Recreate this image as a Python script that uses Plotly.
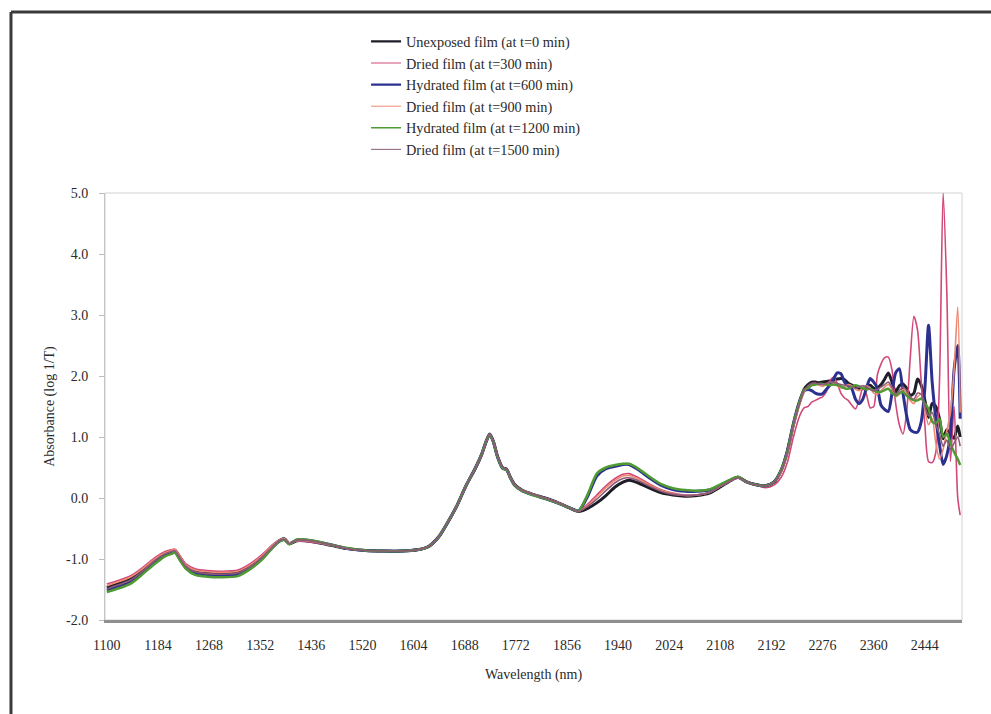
import plotly.graph_objects as go

# Wavelength grid (nm): smooth part of the spectrum, then the noisier end of the range
wl_smooth = [
    1100, 1120, 1140, 1160, 1180, 1195, 1205, 1212, 1220, 1230,
    1245, 1265, 1290, 1315, 1335, 1355, 1372, 1385, 1392, 1400,
    1412, 1425, 1445, 1470, 1495, 1525, 1555, 1585, 1610, 1628,
    1645, 1660, 1675, 1690, 1705, 1716, 1723, 1729, 1735, 1742,
    1750, 1757, 1763, 1770, 1782, 1800, 1820, 1840, 1860, 1875,
    1890, 1905, 1920, 1935, 1948, 1958, 1972, 1990, 2010, 2030,
    2050, 2070, 2090, 2108, 2124, 2137, 2150, 2165, 2182, 2196,
    2208, 2218, 2228, 2238, 2246,
]
wl_noisy = [
    2252, 2258, 2264, 2270, 2276, 2282, 2288, 2294, 2300, 2306,
    2312, 2318, 2324, 2330, 2336, 2342, 2348, 2354, 2360, 2366,
    2372, 2378, 2384, 2390, 2396, 2402, 2408, 2414, 2420, 2426,
    2432, 2438, 2444, 2450, 2456, 2462, 2468, 2474, 2480, 2486,
    2492, 2498, 2502,
]
wavelength = wl_smooth + wl_noisy

# Absorbance (log 1/T) for each film state
unexposed_t0 = [
    -1.47, -1.40, -1.32, -1.18, -1.01, -0.91, -0.87, -0.86, -0.97, -1.11,
    -1.19, -1.22, -1.23, -1.21, -1.11, -0.96, -0.79, -0.69, -0.67, -0.75,
    -0.70, -0.70, -0.73, -0.78, -0.83, -0.86, -0.87, -0.87, -0.85, -0.80,
    -0.64, -0.40, -0.13, 0.20, 0.48, 0.72, 0.92, 1.05, 0.93, 0.68,
    0.50, 0.47, 0.34, 0.22, 0.13, 0.06, 0.00, -0.07, -0.16, -0.22,
    -0.17, -0.08, 0.04, 0.18, 0.26, 0.29, 0.25, 0.17, 0.09, 0.05,
    0.03, 0.04, 0.08, 0.18, 0.28, 0.34, 0.27, 0.22, 0.20, 0.26,
    0.45, 0.76, 1.20, 1.57, 1.79,
    1.86, 1.90, 1.90, 1.89, 1.90, 1.91, 1.92, 1.93, 1.95, 1.96,
    1.94, 1.88, 1.85, 1.82, 1.80, 1.79, 1.83, 1.85, 1.80, 1.80,
    1.86, 1.95, 2.05, 1.90, 1.74, 1.84, 1.87, 1.80, 1.68, 1.72,
    1.95, 1.85, 1.60, 1.32, 1.55, 1.50, 1.30, 0.97, 1.12, 1.05,
    0.98, 1.18, 1.00,
]
dried_t300 = [
    -1.41, -1.35, -1.27, -1.13, -0.97, -0.88, -0.85, -0.84, -0.95, -1.08,
    -1.16, -1.19, -1.20, -1.18, -1.08, -0.93, -0.77, -0.68, -0.67, -0.74,
    -0.71, -0.71, -0.74, -0.78, -0.83, -0.86, -0.87, -0.87, -0.85, -0.80,
    -0.64, -0.40, -0.13, 0.20, 0.48, 0.72, 0.92, 1.05, 0.93, 0.68,
    0.50, 0.47, 0.34, 0.22, 0.13, 0.06, 0.00, -0.07, -0.16, -0.22,
    -0.10, 0.05, 0.20, 0.32, 0.39, 0.40, 0.34, 0.24, 0.14, 0.08,
    0.05, 0.05, 0.09, 0.19, 0.28, 0.33, 0.27, 0.22, 0.17, 0.21,
    0.34, 0.58, 1.00, 1.34, 1.48,
    1.50, 1.57, 1.60, 1.63, 1.66, 1.74, 1.92, 1.98, 1.88, 1.72,
    1.64, 1.60, 1.52, 1.46, 1.60, 1.80, 1.70, 1.48, 1.50, 2.02,
    2.20, 2.30, 2.31, 2.10, 1.55, 1.20, 1.05, 1.40, 2.30, 2.98,
    2.75, 1.90, 1.20, 0.60, 0.58, 0.75, 1.90, 5.00, 3.40, 0.60,
    1.50, 0.00, -0.28,
]
hydrated_t600 = [
    -1.51, -1.45, -1.37, -1.21, -1.04, -0.94, -0.90, -0.88, -1.00, -1.14,
    -1.23, -1.26, -1.27, -1.25, -1.15, -0.99, -0.81, -0.70, -0.68, -0.75,
    -0.69, -0.69, -0.72, -0.77, -0.83, -0.86, -0.87, -0.87, -0.85, -0.80,
    -0.64, -0.40, -0.13, 0.20, 0.48, 0.72, 0.92, 1.04, 0.92, 0.67,
    0.49, 0.46, 0.33, 0.21, 0.12, 0.05, -0.01, -0.08, -0.16, -0.21,
    0.03, 0.36, 0.48, 0.52, 0.55, 0.55, 0.47, 0.34, 0.21, 0.14,
    0.11, 0.11, 0.13, 0.21, 0.29, 0.34, 0.27, 0.22, 0.20, 0.26,
    0.46, 0.77, 1.22, 1.58, 1.76,
    1.78, 1.76, 1.72, 1.70, 1.71, 1.78, 1.85, 1.95, 2.05, 2.04,
    1.90, 1.84, 1.79, 1.62, 1.55, 1.62, 1.80, 1.96, 1.90, 1.80,
    1.52, 1.45, 1.42, 1.72, 2.05, 2.12, 1.72, 1.35, 1.12, 1.08,
    1.08, 1.25, 1.80, 2.83, 1.90, 1.30, 0.88, 0.55, 0.70, 1.05,
    2.10, 2.50, 1.30,
]
dried_t900 = [
    -1.44, -1.37, -1.29, -1.15, -0.99, -0.90, -0.86, -0.85, -0.96, -1.10,
    -1.18, -1.21, -1.22, -1.20, -1.10, -0.95, -0.78, -0.68, -0.67, -0.74,
    -0.70, -0.70, -0.73, -0.78, -0.83, -0.86, -0.87, -0.87, -0.85, -0.80,
    -0.64, -0.40, -0.13, 0.20, 0.48, 0.72, 0.92, 1.05, 0.93, 0.68,
    0.50, 0.47, 0.34, 0.22, 0.13, 0.06, 0.00, -0.07, -0.16, -0.22,
    -0.12, 0.02, 0.17, 0.29, 0.36, 0.37, 0.32, 0.22, 0.13, 0.07,
    0.04, 0.05, 0.09, 0.19, 0.28, 0.33, 0.27, 0.22, 0.20, 0.26,
    0.42, 0.72, 1.16, 1.52, 1.74,
    1.82, 1.87, 1.88, 1.85, 1.83, 1.86, 1.90, 1.88, 1.84, 1.80,
    1.82, 1.86, 1.84, 1.78, 1.76, 1.80, 1.84, 1.80, 1.72, 1.70,
    1.76, 1.82, 1.86, 1.78, 1.66, 1.70, 1.78, 1.72, 1.60, 1.55,
    1.66, 1.70, 1.45, 1.20, 1.30, 0.90, 0.64, 0.80, 1.10, 1.40,
    2.10, 3.13, 1.40,
]
hydrated_t1200 = [
    -1.54, -1.48, -1.40, -1.24, -1.07, -0.96, -0.92, -0.90, -1.02, -1.16,
    -1.26, -1.29, -1.30, -1.28, -1.17, -1.01, -0.82, -0.70, -0.69, -0.76,
    -0.68, -0.68, -0.71, -0.77, -0.82, -0.86, -0.87, -0.87, -0.85, -0.80,
    -0.64, -0.40, -0.13, 0.20, 0.48, 0.72, 0.92, 1.04, 0.92, 0.67,
    0.49, 0.46, 0.33, 0.21, 0.12, 0.05, -0.01, -0.08, -0.16, -0.21,
    0.06, 0.40, 0.50, 0.54, 0.56, 0.56, 0.49, 0.36, 0.23, 0.16,
    0.13, 0.12, 0.14, 0.22, 0.30, 0.35, 0.27, 0.22, 0.20, 0.26,
    0.46, 0.76, 1.21, 1.57, 1.78,
    1.80, 1.85, 1.86, 1.87, 1.87, 1.86, 1.85, 1.86, 1.85, 1.83,
    1.80, 1.79, 1.82, 1.85, 1.83, 1.80, 1.78, 1.79, 1.76, 1.74,
    1.74, 1.77, 1.79, 1.72, 1.68, 1.72, 1.74, 1.68, 1.63, 1.60,
    1.60, 1.63, 1.55, 1.46, 1.25, 1.22, 1.30, 1.00, 1.05, 0.90,
    0.75, 0.64, 0.54,
]
dried_t1500 = [
    -1.49, -1.42, -1.34, -1.19, -1.02, -0.92, -0.88, -0.87, -0.98, -1.12,
    -1.21, -1.24, -1.25, -1.23, -1.13, -0.97, -0.80, -0.69, -0.68, -0.75,
    -0.69, -0.69, -0.72, -0.77, -0.83, -0.86, -0.87, -0.87, -0.85, -0.80,
    -0.64, -0.40, -0.13, 0.20, 0.48, 0.72, 0.92, 1.05, 0.93, 0.68,
    0.50, 0.47, 0.34, 0.22, 0.13, 0.06, 0.00, -0.07, -0.16, -0.22,
    -0.14, -0.02, 0.12, 0.25, 0.32, 0.33, 0.29, 0.20, 0.11, 0.06,
    0.04, 0.05, 0.09, 0.19, 0.28, 0.33, 0.27, 0.22, 0.20, 0.26,
    0.44, 0.75, 1.19, 1.55, 1.77,
    1.84, 1.88, 1.88, 1.87, 1.86, 1.88, 1.90, 1.90, 1.88, 1.86,
    1.85, 1.84, 1.82, 1.80, 1.82, 1.84, 1.82, 1.78, 1.76, 1.78,
    1.82, 1.86, 1.90, 1.82, 1.70, 1.76, 1.82, 1.76, 1.66, 1.62,
    1.72, 1.70, 1.50, 1.35, 1.40, 1.20, 1.05, 0.85, 0.95, 0.80,
    0.90, 1.00, 0.85,
]

series_names = [
    "Unexposed film (at t=0 min)",
    "Dried film (at t=300 min)",
    "Hydrated film (at t=600 min)",
    "Dried film (at t=900 min)",
    "Hydrated film (at t=1200 min)",
    "Dried film (at t=1500 min)",
]
series_values = [unexposed_t0, dried_t300, hydrated_t600,
                 dried_t900, hydrated_t1200, dried_t1500]
series_colors = ["#1e1e28", "#d2487a", "#2c3190", "#ee8a72", "#4f9a32", "#8c5a78"]
series_widths = [3.0, 1.6, 3.0, 1.6, 2.5, 1.6]
# thinner strokes for the legend keys
legend_widths = [2.2, 1.0, 2.2, 1.0, 1.6, 1.0]

x_ticks = [1100, 1184, 1268, 1352, 1436, 1520, 1604, 1688, 1772,
           1856, 1940, 2024, 2108, 2192, 2276, 2360, 2444]
y_ticks = [-2, -1, 0, 1, 2, 3, 4, 5]
y_tick_labels = ["-2.0", "-1.0", "0.0", "1.0", "2.0", "3.0", "4.0", "5.0"]

SERIF = "Liberation Serif, Times New Roman, serif"
TEXT = "#2a2a2a"

fig = go.Figure()
for i, (name, vals, col, w) in enumerate(
        zip(series_names, series_values, series_colors, series_widths)):
    fig.add_trace(go.Scatter(
        x=wavelength, y=vals, name=name, mode="lines",
        legendgroup=f"s{i}", showlegend=False,
        line=dict(color=col, width=w, shape="spline", smoothing=0.7),
    ))
# legend entries (one per series, same group so toggling works)
for i, (name, col, lw) in enumerate(zip(series_names, series_colors, legend_widths)):
    fig.add_trace(go.Scatter(
        x=[None], y=[None], name=name, mode="lines",
        legendgroup=f"s{i}", showlegend=True,
        line=dict(color=col, width=lw),
    ))

fig.update_layout(
    width=991, height=714,
    margin=dict(l=105, r=29, t=193, b=94),
    paper_bgcolor="white", plot_bgcolor="white",
    font=dict(family=SERIF, size=14, color=TEXT),
    showlegend=True,
    legend=dict(
        x=0.3046, y=1.392, xanchor="left", yanchor="top",
        bgcolor="rgba(0,0,0,0)", borderwidth=0,
        font=dict(family=SERIF, size=14.3, color=TEXT),
        tracegroupgap=0,
    ),
    shapes=[
        # light frame around the plotting area
        dict(type="rect", xref="paper", yref="paper", x0=0, y0=0, x1=1, y1=1,
             line=dict(color="#d2d2d2", width=1), layer="below"),
        # dark outer frame (top and left edges)
        dict(type="line", xref="paper", yref="paper", x0=-0.1097, x1=1.05,
             y0=1.4239, y1=1.4239, line=dict(color="#3a3a3a", width=3)),
        dict(type="line", xref="paper", yref="paper", x0=-0.1097, x1=-0.1097,
             y0=1.4239, y1=-0.25, line=dict(color="#3a3a3a", width=3)),
    ],
)

fig.update_xaxes(
    range=[1097, 2505], tickmode="array", tickvals=x_ticks,
    ticktext=[str(t) for t in x_ticks],
    showgrid=False, zeroline=False,
    showline=True, linecolor="#8f8f8f", linewidth=3,
    ticks="", ticklabelstandoff=10,
    tickfont=dict(family=SERIF, size=14, color=TEXT),
    title=dict(text="Wavelength (nm)", standoff=18,
               font=dict(family=SERIF, size=14, color=TEXT)),
)
fig.update_yaxes(
    range=[-2, 5], tickmode="array", tickvals=y_ticks, ticktext=y_tick_labels,
    showgrid=False, zeroline=False,
    showline=True, linecolor="#c4c4c4", linewidth=1,
    ticks="outside", ticklen=5, tickcolor="#bdbdbd", ticklabelstandoff=8,
    tickfont=dict(family=SERIF, size=14, color=TEXT),
    title=dict(text="Absorbance (log 1/T)", standoff=8,
               font=dict(family=SERIF, size=14, color=TEXT)),
)

fig.write_html("out.html")
